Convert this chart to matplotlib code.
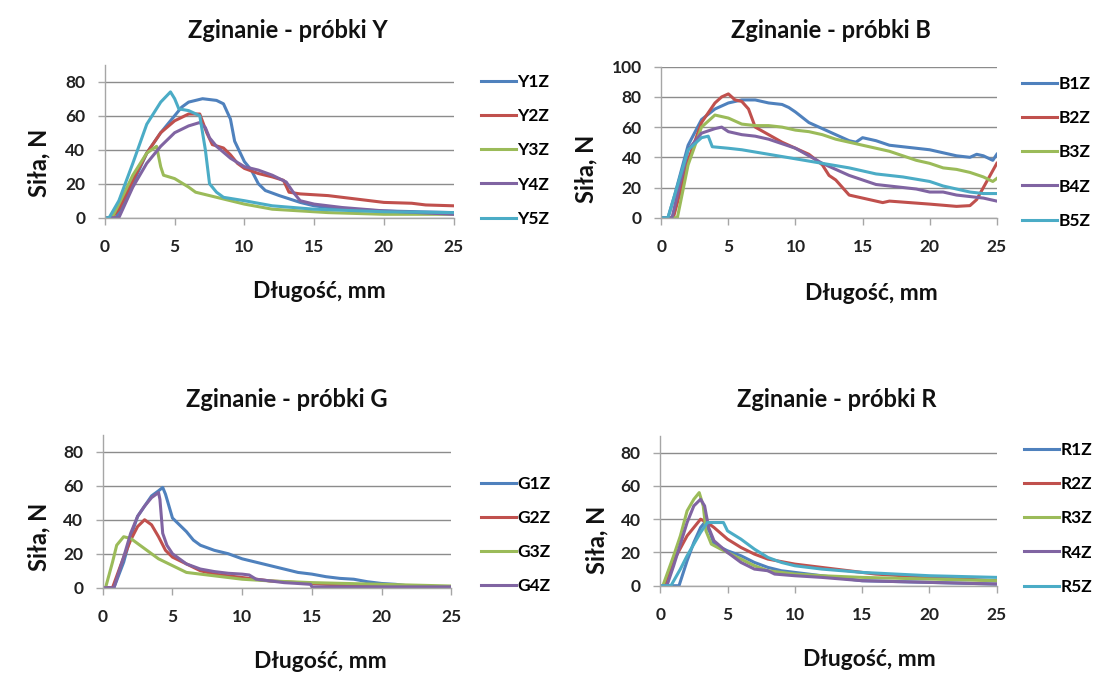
import matplotlib
matplotlib.use("Agg")
import matplotlib.pyplot as plt

plt.rcParams['font.family'] = ['Lato', 'DejaVu Sans']
plt.rcParams['font.weight'] = 'bold'

# Excel 2007 default series colours
colors = ['#4F81BD', '#C0504D', '#9BBB59', '#8064A2', '#4BACC6']
grid_col = '#8C8C8C'

# ---- panel Y ----
y_names = ['Y1Z', 'Y2Z', 'Y3Z', 'Y4Z', 'Y5Z']
y1_x = [0, 0.8, 2, 3, 4, 5, 5.5, 6, 7, 8, 8.5, 9, 9.3, 10, 10.5, 11, 11.5, 12.5, 14, 15, 17, 20, 25]
y1_y = [0, 0, 20, 38, 50, 60, 65, 68, 70, 69, 67, 58, 45, 33, 28, 20, 16, 13, 9, 7, 5, 4, 3]
y2_x = [0, 0.5, 1, 2, 3, 4, 5, 6, 6.8, 7.3, 7.7, 8.5, 9, 9.5, 10, 11, 12, 12.8, 13.2, 14, 16, 18, 20, 22, 23, 25]
y2_y = [0, 0, 5, 22, 38, 50, 57, 61, 61, 50, 43, 41, 37, 32, 29, 26, 24, 22, 15, 14, 13, 11, 9, 8.5, 7.5, 7]
y3_x = [0, 0.5, 1, 2, 3, 3.7, 4, 4.2, 5, 6, 6.5, 7.5, 9, 10, 12, 14, 16, 20, 25]
y3_y = [0, 0, 8, 25, 38, 42, 30, 25, 23, 18, 15, 13, 10, 8, 5, 4, 3, 2, 2]
y4_x = [0, 1, 2, 3, 4, 5, 6, 6.8, 7.2, 7.5, 8, 9, 10, 11, 12, 13, 13.5, 14, 15, 17, 20, 25]
y4_y = [0, 0, 18, 32, 42, 50, 54, 56, 53, 47, 42, 35, 30, 28, 25, 21, 15, 10, 8, 6, 4, 2]
y5_x = [0, 0.3, 1, 2, 3, 4, 4.7, 5, 5.3, 6, 6.8, 7.2, 7.5, 8, 8.5, 10, 12, 15, 20, 25]
y5_y = [0, 0, 10, 32, 55, 68, 74, 70, 64, 63, 60, 40, 20, 15, 12, 10, 7, 5, 3.5, 3]

# ---- panel B ----
b_names = ['B1Z', 'B2Z', 'B3Z', 'B4Z', 'B5Z']
b1_x = [0, 0.5, 1, 2, 3, 4, 5, 6, 7, 8, 9, 9.5, 10, 11, 12, 13, 14, 14.5, 15, 16, 17, 18, 19, 20, 21, 22, 23, 23.5, 24, 24.7, 25]
b1_y = [0, 0, 15, 48, 65, 72, 76, 78, 78, 76, 75, 73, 70, 63, 59, 55, 51, 50, 53, 51, 48, 47, 46, 45, 43, 41, 40, 42, 41, 38, 42]
b2_x = [0, 0.9, 1.5, 2, 3, 4, 4.5, 5, 5.5, 6, 6.5, 7, 8, 9, 10, 11, 12, 12.5, 13, 14, 15, 16.5, 17, 20, 22, 23, 23.5, 24, 24.5, 25]
b2_y = [0, 0, 20, 38, 63, 76, 80, 82, 78, 77, 72, 60, 55, 50, 46, 42, 35, 28, 25, 15, 13, 10, 11, 9, 7.5, 8, 12, 20, 28, 36]
b3_x = [0, 1.2, 2, 3, 4, 5, 6, 7, 8, 9, 10, 11, 12, 13, 14, 15, 16, 17, 18, 19, 20, 21, 22, 23, 24, 24.7, 25]
b3_y = [0, 0, 35, 60, 68, 66, 62, 61, 61, 60, 58, 57, 55, 52, 50, 48, 46, 44, 41, 38, 36, 33, 32, 30, 27, 24, 26]
b4_x = [0, 0.8, 2, 3, 4, 4.5, 5, 6, 7, 8, 9, 10, 11, 12, 13, 14, 15, 16, 17, 18, 19, 20, 21, 22, 23, 24, 25]
b4_y = [0, 0, 45, 56, 59, 60, 57, 55, 54, 52, 49, 46, 41, 36, 32, 28, 25, 22, 21, 20, 19, 17, 17, 15, 14, 13, 11]
b5_x = [0, 0.5, 1, 2, 3, 3.5, 3.8, 5, 6, 8, 10, 12, 14, 16, 18, 20, 21, 22, 23, 24, 25]
b5_y = [0, 0, 15, 45, 53, 54, 47, 46, 45, 42, 39, 36, 33, 29, 27, 24, 21, 19, 17, 16, 16]

# ---- panel G ----
g_names = ['G1Z', 'G2Z', 'G3Z', 'G4Z']
g1_x = [0, 0.8, 1.5, 2, 2.5, 3, 3.5, 4, 4.3, 4.5, 5, 5.5, 6, 6.5, 7, 8, 9, 10, 11, 12, 13, 14, 15, 16, 17, 18, 19, 20, 21, 22, 25]
g1_y = [0, 0, 15, 30, 42, 48, 54, 57, 59, 55, 41, 37, 33, 28, 25, 22, 20, 17, 15, 13, 11, 9, 8, 6.5, 5.5, 5, 3.5, 2.5, 2, 1, 0.5]
g2_x = [0, 0.7, 1.5, 2, 2.5, 3, 3.5, 4, 4.5, 5, 6, 7, 8, 10, 12, 14, 16, 20, 25]
g2_y = [0, 0, 18, 28, 36, 40, 37, 30, 22, 18, 14, 10, 8, 6, 4, 3, 2, 1, 0.5]
g3_x = [0, 0.2, 0.7, 1, 1.5, 2, 3, 4, 5, 6, 7, 8, 10, 12, 15, 20, 25]
g3_y = [0, 0, 15, 25, 30, 29, 23, 17, 13, 9, 8, 7, 5, 4, 3, 2, 1]
g4_x = [0, 0.8, 1.5, 2, 2.5, 3, 3.5, 4, 4.1, 4.3, 4.6, 5, 6, 7, 8, 9, 10, 10.5, 11, 12, 13, 14, 14.9, 15, 25]
g4_y = [0, 0, 18, 32, 42, 48, 53, 56, 52, 32, 25, 20, 14, 11, 9.5, 8.5, 8, 7.5, 5, 4, 3, 2.5, 2, 0.5, 0.5]

# ---- panel R ----
r_names = ['R1Z', 'R2Z', 'R3Z', 'R4Z', 'R5Z']
r1_x = [0, 1.4, 2, 2.5, 3, 3.3, 3.7, 4, 5, 6, 7, 8, 9, 10, 12, 15, 20, 25]
r1_y = [0, 0, 15, 26, 35, 38, 32, 25, 21, 18, 14, 11, 9, 8, 6, 3, 2, 1]
r2_x = [0, 0.3, 1, 2, 3, 3.5, 4, 5, 6, 7, 8, 10, 12, 14, 16, 20, 25]
r2_y = [0, 0, 15, 30, 40, 38, 35, 28, 23, 19, 16, 13, 11, 9, 7, 5, 3]
r3_x = [0, 0.2, 1, 1.5, 2, 2.5, 2.9, 3.2, 3.4, 3.8, 4.5, 5, 6, 7, 8, 10, 12, 15, 20, 25]
r3_y = [0, 0, 18, 30, 45, 52, 56, 48, 33, 25, 22, 20, 16, 12, 9, 7, 6, 5, 4, 3]
r4_x = [0, 0.5, 1, 2, 2.5, 3, 3.3, 3.6, 4, 5, 6, 7, 8, 8.5, 10, 12, 15, 20, 25]
r4_y = [0, 0, 12, 38, 48, 52, 48, 35, 27, 20, 14, 10, 9, 7, 6, 5, 3, 2, 1]
r5_x = [0, 0.8, 1.5, 2, 3, 3.5, 4, 4.7, 5, 6, 7, 8, 9, 10, 12, 15, 20, 25]
r5_y = [0, 0, 10, 18, 32, 38, 38, 38, 33, 28, 22, 17, 14, 12, 10, 8, 6, 5]

panels = [
    ('Zginanie - próbki Y', y_names, [(y1_x, y1_y), (y2_x, y2_y), (y3_x, y3_y), (y4_x, y4_y), (y5_x, y5_y)], 90, range(0, 81, 20)),
    ('Zginanie - próbki B', b_names, [(b1_x, b1_y), (b2_x, b2_y), (b3_x, b3_y), (b4_x, b4_y), (b5_x, b5_y)], 100, range(0, 101, 20)),
    ('Zginanie - próbki G', g_names, [(g1_x, g1_y), (g2_x, g2_y), (g3_x, g3_y), (g4_x, g4_y)], 90, range(0, 81, 20)),
    ('Zginanie - próbki R', r_names, [(r1_x, r1_y), (r2_x, r2_y), (r3_x, r3_y), (r4_x, r4_y), (r5_x, r5_y)], 90, range(0, 81, 20)),
]

# axes rects (fig fraction) + legend anchors + title / label positions
rects = [[0.096, 0.677, 0.319, 0.227], [0.605, 0.677, 0.307, 0.224],
         [0.094, 0.128, 0.319, 0.227], [0.604, 0.131, 0.308, 0.222]]
leg_pos = [(0.440, 0.777), (0.935, 0.774), (0.440, 0.206), (0.937, 0.231)]
title_pos = [(0.263, 0.955), (0.760, 0.955), (0.262, 0.408), (0.766, 0.407)]
xlab_pos = [(0.292, 0.567), (0.797, 0.565), (0.293, 0.018), (0.795, 0.022)]
ylab_pos = [(0.036, 0.758), (0.536, 0.750), (0.036, 0.203), (0.546, 0.199)]

fig = plt.figure(figsize=(10.93, 6.74), dpi=100)

for k, (title, names, series, ymax, yt) in enumerate(panels):
    ax = fig.add_axes(rects[k])
    for i, (xs, ys) in enumerate(series):
        ax.plot(xs, ys, color=colors[i], lw=2.2, label=names[i], solid_joinstyle='round')
    ax.set_xlim(0, 25)
    ax.set_ylim(0, ymax)
    ax.set_xticks(range(0, 26, 5))
    ax.set_yticks(list(yt))
    ax.grid(axis='y', color=grid_col, lw=1.0)
    ax.set_axisbelow(True)
    for s in ['top', 'right']:
        ax.spines[s].set_visible(False)
    for s in ['left', 'bottom']:
        ax.spines[s].set_color('#A6A6A6')
        ax.spines[s].set_linewidth(1.0)
    ax.tick_params(axis='both', colors='#A6A6A6', labelcolor='#222222', labelsize=12.5, length=5, width=1)
    ax.tick_params(axis='x', pad=10)
    ax.tick_params(axis='y', pad=9)
    for lab in ax.get_xticklabels() + ax.get_yticklabels():
        lab.set_fontweight('bold')
    fig.text(title_pos[k][0], title_pos[k][1], title, ha='center', va='center', fontsize=17, fontweight='bold', color='#111111')
    fig.text(xlab_pos[k][0], xlab_pos[k][1], 'Długość, mm', ha='center', va='center', fontsize=16.5, fontweight='bold', color='#111111')
    fig.text(ylab_pos[k][0], ylab_pos[k][1], 'Siła, N', ha='center', va='center', rotation=90, fontsize=17, fontweight='bold', color='#111111')
    fig.legend(handles=ax.get_lines(), loc='center left', bbox_to_anchor=leg_pos[k], frameon=False,
               handlelength=2.0, handletextpad=0.1, labelspacing=1.05, borderpad=0, borderaxespad=0,
               prop={'weight': 'bold', 'size': 12.5})

fig.savefig('out.png', dpi=100)
